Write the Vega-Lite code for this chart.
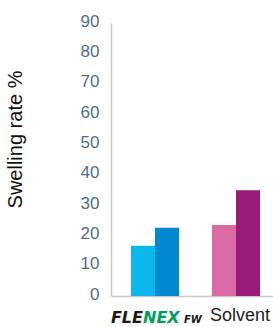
{
  "$schema": "https://vega.github.io/schema/vega-lite/v6.json",
  "width": 162,
  "height": 273,
  "autosize": {"type": "none"},
  "padding": {"left": 111, "top": 23, "right": 0, "bottom": 31},
  "config": {
    "view": {"stroke": null},
    "font": "Liberation Sans",
    "axisY": {
      "labelOverlap": false,
      "ticks": false,
      "grid": false,
      "domainColor": "#c8c8c8",
      "domainWidth": 1.5,
      "labelColor": "#4e6d88",
      "labelFontSize": 17,
      "labelPadding": 12,
      "labelOffset": -2,
      "titleFontSize": 20,
      "titleFontWeight": "normal",
      "titleColor": "#111111",
      "titleAngle": -90,
      "titleX": -96,
      "titleY": 116,
      "titleAlign": "center",
      "titleBaseline": "middle"
    },
    "axisX": {
      "labelAngle": 0,
      "ticks": false,
      "grid": false,
      "domainColor": "#c8c8c8",
      "domainWidth": 1.5,
      "labelFontSize": 18,
      "labelColor": "#222222",
      "labelPadding": 10,
      "labelOffset": 4,
      "labelOverlap": false
    }
  },
  "layer": [
    {
      "data": {
        "values": [
          {"group": "FLENEX FW", "series": "A", "key": "FLENEX FW A", "rate": 16.6},
          {"group": "FLENEX FW", "series": "B", "key": "FLENEX FW B", "rate": 22.5},
          {"group": "Solvent", "series": "A", "key": "Solvent A", "rate": 23.4},
          {"group": "Solvent", "series": "B", "key": "Solvent B", "rate": 34.9}
        ]
      },
      "mark": {"type": "bar"},
      "encoding": {
        "x": {
          "field": "group",
          "type": "nominal",
          "sort": ["FLENEX FW", "Solvent"],
          "scale": {"paddingInner": 0.407, "paddingOuter": 0.2035, "align": 0.606},
          "axis": {"title": null, "labelExpr": "datum.value == 'Solvent' ? 'Solvent' : ''"}
        },
        "xOffset": {
          "field": "series",
          "type": "nominal",
          "scale": {"paddingInner": 0, "paddingOuter": 0}
        },
        "y": {
          "field": "rate",
          "type": "quantitative",
          "scale": {"domain": [0, 90], "nice": false},
          "axis": {"values": [0, 10, 20, 30, 40, 50, 60, 70, 80, 90], "title": "Swelling rate %"}
        },
        "color": {
          "field": "key",
          "type": "nominal",
          "scale": {
            "domain": ["FLENEX FW A", "FLENEX FW B", "Solvent A", "Solvent B"],
            "range": ["#0bb8ec", "#0088d0", "#dc6aa6", "#9a1a7a"]
          },
          "legend": null
        }
      }
    },
    {
      "data": {"values": [{"group": "FLENEX FW", "part": "FLE"}]},
      "mark": {"type": "text", "align": "right", "baseline": "alphabetic", "dx": -12, "dy": 27, "font": "DejaVu Sans", "fontSize": 16, "fontWeight": "bold", "fontStyle": "italic", "color": "#1a1a1a"},
      "encoding": {
        "x": {"field": "group", "type": "nominal", "sort": ["FLENEX FW", "Solvent"], "axis": {"title": null, "labelExpr": "datum.value == 'Solvent' ? 'Solvent' : ''"}},
        "y": {"datum": 0, "type": "quantitative", "axis": {"values": [0, 10, 20, 30, 40, 50, 60, 70, 80, 90], "title": "Swelling rate %"}},
        "text": {"field": "part"}
      }
    },
    {
      "data": {"values": [{"group": "FLENEX FW", "part": "NEX"}]},
      "mark": {"type": "text", "align": "left", "baseline": "alphabetic", "dx": -12, "dy": 27, "font": "DejaVu Sans", "fontSize": 16, "fontWeight": "bold", "fontStyle": "italic", "color": "#00a05a"},
      "encoding": {
        "x": {"field": "group", "type": "nominal", "sort": ["FLENEX FW", "Solvent"], "axis": {"title": null, "labelExpr": "datum.value == 'Solvent' ? 'Solvent' : ''"}},
        "y": {"datum": 0, "type": "quantitative", "axis": {"values": [0, 10, 20, 30, 40, 50, 60, 70, 80, 90], "title": "Swelling rate %"}},
        "text": {"field": "part"}
      }
    },
    {
      "data": {"values": [{"group": "FLENEX FW", "part": "FW"}]},
      "mark": {"type": "text", "align": "left", "baseline": "alphabetic", "dx": 29, "dy": 27, "font": "DejaVu Sans", "fontSize": 10, "fontWeight": "bold", "fontStyle": "italic", "color": "#1a1a1a"},
      "encoding": {
        "x": {"field": "group", "type": "nominal", "sort": ["FLENEX FW", "Solvent"], "axis": {"title": null, "labelExpr": "datum.value == 'Solvent' ? 'Solvent' : ''"}},
        "y": {"datum": 0, "type": "quantitative", "axis": {"values": [0, 10, 20, 30, 40, 50, 60, 70, 80, 90], "title": "Swelling rate %"}},
        "text": {"field": "part"}
      }
    }
  ]
}
